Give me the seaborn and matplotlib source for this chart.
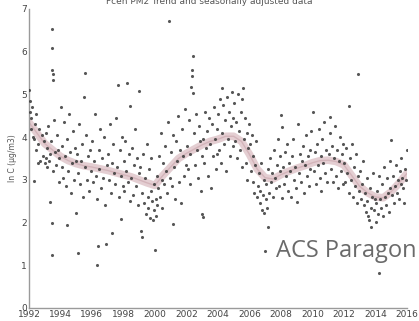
import matplotlib
matplotlib.use("Agg")
import matplotlib.pyplot as plt
import seaborn as sns
import pandas as pd

# Smoothed trend (ln C) at half-year steps
trend_year = [1992.0 + 0.5 * i for i in range(49)]
trend_lnc = [4.35, 4.10, 3.85, 3.70, 3.55, 3.45, 3.38, 3.33, 3.30, 3.26,
             3.22, 3.17, 3.12, 3.07, 3.00, 2.93, 2.87, 3.10, 3.30, 3.50,
             3.62, 3.72, 3.82, 3.90, 3.95, 4.02, 4.02, 3.90, 3.60, 3.25,
             3.05, 3.02, 3.12, 3.20, 3.27, 3.33, 3.40, 3.45, 3.46, 3.43,
             3.35, 3.10, 2.85, 2.70, 2.60, 2.58, 2.72, 2.92, 3.15]

# Seasonally adjusted observations
obs_year = [
    1992.02, 1992.05, 1992.08, 1992.12, 1992.15, 1992.20, 1992.25, 1992.30, 1992.33, 1992.38,
    1992.42, 1992.48, 1992.55, 1992.60, 1992.66, 1992.72, 1992.80, 1992.88, 1992.95,
    1993.02, 1993.06, 1993.10, 1993.14, 1993.18, 1993.22, 1993.28, 1993.32, 1993.35, 1993.40,
    1993.44, 1993.45, 1993.46, 1993.47, 1993.48, 1993.50, 1993.52, 1993.56, 1993.60, 1993.65,
    1993.70, 1993.76, 1993.82, 1993.88, 1993.94,
    1994.03, 1994.08, 1994.12, 1994.18, 1994.22, 1994.28, 1994.33, 1994.40, 1994.45, 1994.50,
    1994.56, 1994.62, 1994.68, 1994.74, 1994.80, 1994.86, 1994.92, 1994.97,
    1995.00, 1995.04, 1995.10, 1995.14, 1995.20, 1995.25, 1995.30, 1995.36, 1995.42, 1995.48,
    1995.55, 1995.58, 1995.64, 1995.70, 1995.76, 1995.82, 1995.88, 1995.94,
    1996.02, 1996.08, 1996.12, 1996.18, 1996.24, 1996.30, 1996.35, 1996.37, 1996.42, 1996.48,
    1996.54, 1996.60, 1996.66, 1996.72, 1996.78, 1996.84, 1996.90, 1996.95,
    1997.03, 1997.08, 1997.14, 1997.20, 1997.26, 1997.30, 1997.36, 1997.42, 1997.48, 1997.54,
    1997.60, 1997.65, 1997.70, 1997.76, 1997.82, 1997.85, 1997.90, 1997.96,
    1998.02, 1998.07, 1998.12, 1998.18, 1998.25, 1998.28, 1998.34, 1998.40, 1998.45, 1998.50,
    1998.56, 1998.62, 1998.68, 1998.74, 1998.80, 1998.86, 1998.92, 1998.97,
    1999.00, 1999.05, 1999.10, 1999.15, 1999.20, 1999.24, 1999.30, 1999.36, 1999.42, 1999.48,
    1999.54, 1999.58, 1999.63, 1999.68, 1999.73, 1999.78, 1999.83, 1999.88, 1999.93, 1999.97,
    2000.00, 2000.04, 2000.08, 2000.12, 2000.16, 2000.20, 2000.25, 2000.30, 2000.36, 2000.42,
    2000.48, 2000.54, 2000.60, 2000.66, 2000.72, 2000.78, 2000.84, 2000.90, 2000.94,
    2001.03, 2001.08, 2001.15, 2001.18, 2001.24, 2001.30, 2001.36, 2001.42, 2001.48, 2001.54,
    2001.60, 2001.66, 2001.72, 2001.78, 2001.84, 2001.90, 2001.96,
    2002.02, 2002.08, 2002.14, 2002.20, 2002.26, 2002.30, 2002.34, 2002.38, 2002.42, 2002.45,
    2002.50, 2002.56, 2002.62, 2002.68, 2002.74, 2002.80, 2002.86, 2002.92, 2002.97,
    2003.00, 2003.03, 2003.08, 2003.14, 2003.20, 2003.26, 2003.32, 2003.38, 2003.44, 2003.50,
    2003.56, 2003.62, 2003.68, 2003.74, 2003.80, 2003.86, 2003.92, 2003.97,
    2004.02, 2004.08, 2004.14, 2004.20, 2004.23, 2004.28, 2004.34, 2004.40, 2004.46, 2004.52,
    2004.58, 2004.64, 2004.70, 2004.76, 2004.82, 2004.88, 2004.94, 2004.98,
    2005.03, 2005.08, 2005.14, 2005.20, 2005.26, 2005.32, 2005.38, 2005.44, 2005.50, 2005.56,
    2005.60, 2005.64, 2005.70, 2005.76, 2005.82, 2005.88, 2005.94, 2005.98,
    2006.02, 2006.08, 2006.14, 2006.20, 2006.26, 2006.32, 2006.38, 2006.44, 2006.50, 2006.55,
    2006.60, 2006.65, 2006.70, 2006.75, 2006.80, 2006.85, 2006.90, 2006.95,
    2007.00, 2007.04, 2007.08, 2007.12, 2007.18, 2007.20, 2007.26, 2007.32, 2007.38, 2007.44,
    2007.50, 2007.56, 2007.62, 2007.68, 2007.74, 2007.80, 2007.86, 2007.92, 2007.97,
    2008.04, 2008.06, 2008.10, 2008.16, 2008.22, 2008.28, 2008.34, 2008.40, 2008.46, 2008.52,
    2008.58, 2008.64, 2008.70, 2008.76, 2008.82, 2008.88, 2008.94,
    2009.03, 2009.10, 2009.16, 2009.22, 2009.28, 2009.34, 2009.40, 2009.46, 2009.52, 2009.58,
    2009.64, 2009.70, 2009.76, 2009.82, 2009.88, 2009.94,
    2010.05, 2010.10, 2010.16, 2010.22, 2010.28, 2010.34, 2010.40, 2010.46, 2010.52, 2010.58,
    2010.64, 2010.70, 2010.76, 2010.82, 2010.88, 2010.94,
    2011.03, 2011.09, 2011.15, 2011.20, 2011.26, 2011.32, 2011.38, 2011.44, 2011.50, 2011.56,
    2011.62, 2011.68, 2011.74, 2011.80, 2011.86, 2011.92, 2011.97,
    2012.04, 2012.10, 2012.16, 2012.22, 2012.30, 2012.34, 2012.40, 2012.46, 2012.52, 2012.58,
    2012.64, 2012.70, 2012.76, 2012.82, 2012.88, 2012.90, 2012.95,
    2013.03, 2013.08, 2013.14, 2013.20, 2013.26, 2013.32, 2013.38, 2013.44, 2013.50, 2013.56,
    2013.60, 2013.65, 2013.70, 2013.75, 2013.80, 2013.85, 2013.90, 2013.95,
    2014.02, 2014.05, 2014.10, 2014.16, 2014.20, 2014.24, 2014.30, 2014.36, 2014.42, 2014.48,
    2014.54, 2014.60, 2014.66, 2014.72, 2014.78, 2014.84, 2014.90, 2014.96,
    2015.00, 2015.05, 2015.12, 2015.18, 2015.24, 2015.30, 2015.36, 2015.42, 2015.48, 2015.54,
    2015.60, 2015.66, 2015.72, 2015.78, 2015.85, 2015.90, 2015.96, 2015.99,
]
obs_lnc = [
    5.10, 4.85, 4.60, 4.45, 4.20, 4.70, 4.00, 2.97, 3.95, 4.30,
    3.70, 4.55, 3.85, 3.40, 4.20, 3.45, 4.05, 3.55, 3.90,
    3.40, 3.50, 4.10, 3.30, 3.75, 4.25, 3.45, 3.60, 2.47, 3.90,
    6.53, 1.24, 6.08, 1.99, 5.56, 5.48, 5.34, 3.20, 4.40, 3.65,
    3.35, 4.05, 3.70, 2.95, 3.50,
    4.70, 3.30, 3.80, 3.05, 4.35, 3.55, 2.85, 3.95, 1.94, 3.20,
    4.55, 3.65, 2.70, 3.40, 4.15, 3.00, 3.75, 3.45,
    2.22, 3.60, 1.28, 3.15, 4.30, 2.90, 3.45, 3.85, 2.60, 4.93,
    5.50, 3.30, 4.05, 3.00, 3.55, 2.75, 3.70, 3.20,
    3.90, 2.95, 3.45, 4.55, 3.10, 2.55, 1.00, 1.45, 3.70, 3.25,
    4.20, 2.80, 3.50, 3.05, 4.00, 2.40, 1.50, 3.35,
    3.60, 3.00, 4.30, 2.70, 3.40, 1.75, 3.85, 3.15, 2.90, 4.45,
    3.30, 5.21, 2.60, 3.70, 3.10, 2.08, 4.00, 2.85,
    3.45, 2.75, 3.90, 3.20, 5.27, 2.95, 3.60, 2.50, 4.74, 3.05,
    3.75, 2.65, 3.35, 4.20, 2.85, 3.50, 2.40, 3.15,
    5.09, 3.30, 1.81, 2.70, 1.67, 3.60, 2.45, 3.05, 2.20, 3.85,
    2.60, 2.35, 3.25, 2.10, 2.75, 3.50, 2.50, 2.05, 2.90, 2.30,
    1.36, 2.55, 2.15, 3.10, 2.40, 2.80, 3.55, 2.60, 4.10, 3.00,
    2.35, 3.40, 2.90, 3.80, 3.20, 2.70, 4.35, 6.73, 3.05,
    3.65, 2.85, 1.96, 4.05, 3.30, 2.55, 3.90, 3.45, 4.50, 2.95,
    3.70, 2.45, 4.20, 3.55, 3.10, 4.65, 3.35,
    3.80, 3.25, 4.40, 2.90, 3.60, 5.17, 5.58, 5.44, 5.03, 5.91,
    4.10, 3.35, 4.55, 3.70, 3.05, 4.25, 3.90, 2.75, 3.55,
    2.20, 2.14, 3.95, 3.40, 4.60, 3.75, 4.15, 3.10, 4.45, 3.85,
    2.80, 4.30, 3.55, 4.70, 3.95, 3.25, 4.20, 3.60,
    4.55, 3.70, 4.90, 3.40, 5.14, 4.10, 4.75, 3.85, 4.40, 3.20,
    4.95, 3.95, 4.60, 3.55, 4.25, 5.05, 3.80, 4.45,
    4.80, 3.90, 4.35, 3.50, 5.00, 4.15, 3.70, 4.60, 3.30, 4.90,
    5.14, 3.95, 4.45, 3.40, 4.10, 3.00, 3.75, 4.30,
    3.85, 3.20, 4.05, 2.95, 3.55, 2.70, 3.35, 3.90, 2.60, 2.85,
    3.15, 2.45, 2.75, 3.40, 2.30, 2.65, 2.23, 3.00,
    1.33, 2.55, 2.90, 2.35, 3.25, 1.89, 2.70, 3.50, 2.95, 3.15,
    2.60, 3.70, 3.05, 2.80, 3.35, 3.95, 2.85, 3.20, 3.55,
    4.51, 4.24, 2.57, 3.30, 2.90, 3.65, 3.10, 3.85, 2.75, 3.40,
    3.20, 2.60, 3.55, 3.95, 3.00, 3.30, 2.80,
    2.48, 4.30, 3.15, 3.60, 2.95, 3.45, 3.80, 2.70, 3.35, 4.05,
    3.10, 3.55, 2.85, 3.70, 3.25, 4.15,
    4.59, 3.20, 3.65, 2.90, 3.85, 3.35, 4.20, 3.05, 3.55, 2.75,
    3.95, 3.40, 4.35, 3.15, 3.70, 2.95,
    3.60, 4.10, 4.47, 3.25, 3.80, 2.95, 3.50, 4.25, 3.10, 3.70,
    2.80, 3.45, 4.00, 3.20, 3.60, 2.90, 3.85,
    3.40, 2.95, 3.75, 3.15, 4.74, 2.70, 3.50, 3.00, 3.85, 2.60,
    3.30, 2.85, 3.60, 2.45, 3.10, 5.48, 2.75,
    3.20, 2.55, 2.90, 3.45, 2.40, 2.70, 2.25, 3.05, 2.50, 2.15,
    2.06, 2.80, 2.35, 1.90, 2.60, 3.15, 2.30, 2.55,
    2.45, 2.02, 2.75, 2.20, 0.83, 3.10, 2.55, 2.35, 2.90, 2.15,
    3.30, 2.60, 2.40, 3.05, 2.70, 2.25, 3.45, 2.80,
    3.94, 2.65, 3.10, 2.45, 2.85, 3.35, 2.70, 3.00, 2.55, 3.20,
    2.90, 3.50, 3.05, 2.80, 2.46, 3.25, 3.00, 3.71,
]

x_ticks = list(range(1992, 2017, 2))
y_ticks = list(range(0, 8))

obs = pd.DataFrame({"year": obs_year, "lnc": obs_lnc})
trend = pd.DataFrame({"year": trend_year, "lnc": trend_lnc})

sns.set_style("white")
plt.rcParams["font.family"] = ["DejaVu Sans"]

fig = plt.figure(figsize=(4.19, 3.21), dpi=100)
ax = fig.add_axes([0.069, 0.0405, 0.902, 0.9315])

# broad translucent trend band with a thin core line
sns.lineplot(data=trend, x="year", y="lnc", ax=ax, color="#e0c6ca",
             linewidth=5.5, alpha=0.85, zorder=1)
sns.lineplot(data=trend, x="year", y="lnc", ax=ax, color="#c9a3aa",
             linewidth=1.0, alpha=0.6, zorder=2)
sns.scatterplot(data=obs, x="year", y="lnc", ax=ax, color="#3a3a3a",
                s=5, marker="o", linewidth=0, alpha=0.85, zorder=3)

ax.set_xlim(1992, 2016)
ax.set_ylim(0, 7)
ax.set_xticks(x_ticks)
ax.set_yticks(y_ticks)
ax.set_xlabel("")
ax.set_ylabel("ln C (µg/m3)", fontsize=5.5, color="#555555", labelpad=3)

for side in ("top", "right"):
    ax.spines[side].set_visible(False)
for side in ("left", "bottom"):
    ax.spines[side].set_color("#9a9a9a")
    ax.spines[side].set_linewidth(1.0)
ax.tick_params(direction="in", length=3, width=0.7, color="#9a9a9a",
               labelsize=6.5, labelcolor="#444444", pad=1.5)

fig.text(0.5, 0.995, "Fcen PM2 Trend and seasonally adjusted data",
         ha="center", va="center", fontsize=6.5, color="#555555")

fig.text(0.995, 0.198, "ACS Paragon", ha="right", va="baseline",
         fontsize=17, color="#6a6a6a", family=["Open Sans", "DejaVu Sans"])

fig.savefig("out.png", dpi=100)
